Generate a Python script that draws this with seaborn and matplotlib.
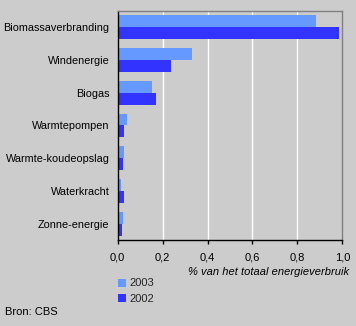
import matplotlib
matplotlib.use("Agg")
import matplotlib.pyplot as plt
from matplotlib.patches import Patch
import seaborn as sns
import pandas as pd

categories = ["Biomassaverbranding", "Windenergie", "Biogas", "Warmtepompen",
              "Warmte-koudeopslag", "Waterkracht", "Zonne-energie"]
values_2003 = [0.881, 0.331, 0.153, 0.041, 0.028, 0.015, 0.024]
values_2002 = [0.985, 0.237, 0.170, 0.028, 0.024, 0.028, 0.019]
years = ["2003", "2002"]
xticks = [0.0, 0.2, 0.4, 0.6, 0.8, 1.0]
xtick_labels = ["0,0", "0,2", "0,4", "0,6", "0,8", "1,0"]

colors = {"2003": "#6699ff", "2002": "#3333ff"}
bg = "#cccccc"

df = pd.DataFrame({
    "categorie": categories * 2,
    "jaar": [years[0]] * len(categories) + [years[1]] * len(categories),
    "waarde": values_2003 + values_2002,
})

sns.set_theme(style="white")
plt.rcParams["font.family"] = ["Liberation Sans", "DejaVu Sans"]

fig = plt.figure(figsize=(3.56, 3.26), dpi=100, facecolor=bg)
ax = fig.add_axes([0.3306, 0.2638, 0.6310, 0.7025])
ax.set_facecolor(bg)

sns.barplot(data=df, y="categorie", x="waarde", hue="jaar", hue_order=years,
            order=categories, palette=colors, orient="h", width=0.73,
            saturation=1, legend=False, ax=ax, edgecolor="none", linewidth=0)

ax.set_xlim(0, 1.0)
ax.set_ylim(len(categories) - 0.5, -0.5)
ax.set_xticks(xticks)
ax.set_xticklabels(xtick_labels, fontsize=8, color="black")
ax.tick_params(axis="x", direction="out", length=3, width=1, color="black", pad=6, bottom=True)
ax.tick_params(axis="y", length=0, labelsize=7.8, pad=6, labelcolor="black")
ax.set_ylabel("")
ax.set_xlabel("")

for v in xticks[1:-1]:
    ax.axvline(v, color="white", linewidth=1, zorder=0)

ax.spines["left"].set_color("black")
ax.spines["bottom"].set_color("black")
ax.spines["top"].set_color("#808080")
ax.spines["right"].set_color("#808080")
for s in ax.spines.values():
    s.set_linewidth(1)
    s.set_visible(True)

fig.text(0.980, 1 - 272 / 326, "% van het totaal energieverbruik", fontsize=8,
         style="italic", ha="right", va="center", color="black")

handles = [Patch(facecolor=colors[y], edgecolor="none", label=y) for y in years]
fig.legend(handles=handles, loc="upper left", bbox_to_anchor=(0.3315, 1 - 278.5 / 326),
           frameon=False, fontsize=8, handlelength=0.7, handleheight=0.7,
           handletextpad=0.3, labelspacing=0.5, borderaxespad=0, borderpad=0)

fig.text(0.014, 1 - 312 / 326, "Bron: CBS", fontsize=8, ha="left", va="center", color="black")

fig.savefig("out.png", dpi=100, facecolor=bg)
